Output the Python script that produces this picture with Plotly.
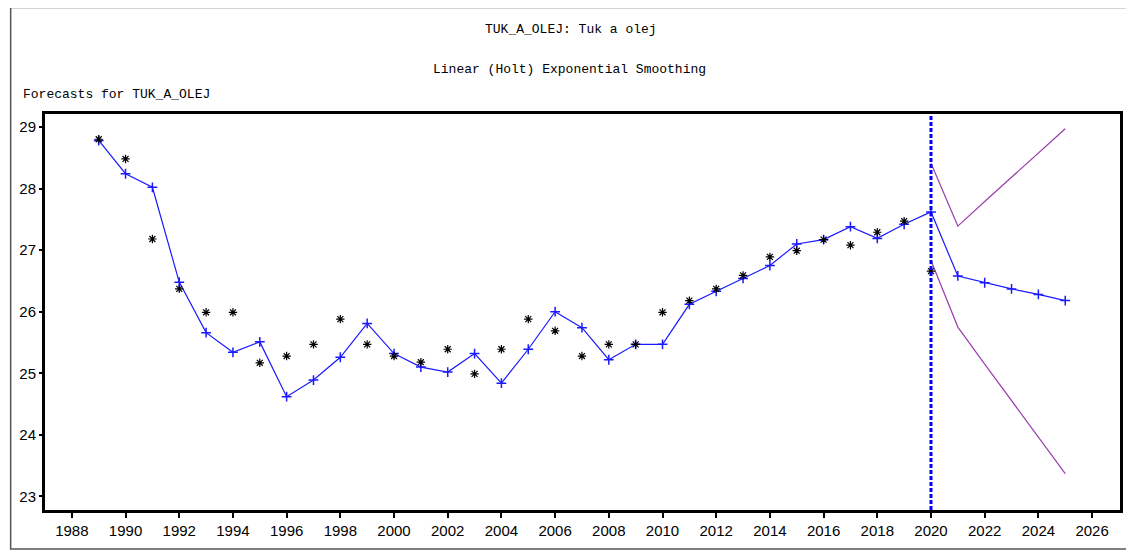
import plotly.graph_objects as go

years_hist = list(range(1989, 2021))
years_all = list(range(1989, 2026))
years_fc = list(range(2020, 2026))

actual = [28.8, 28.48, 27.18, 26.37, 25.99, 25.99, 25.17, 25.28, 25.47, 25.88,
          25.47, 25.28, 25.18, 25.39, 24.99, 25.39, 25.88, 25.69, 25.28, 25.47,
          25.47, 25.99, 26.18, 26.37, 26.59, 26.89, 26.99, 27.17, 27.08, 27.29,
          27.47, 26.66]
fitted = [28.78, 28.24, 28.02, 26.48, 25.66, 25.34, 25.51, 24.62, 24.89, 25.26,
          25.81, 25.32, 25.10, 25.02, 25.32, 24.84, 25.39, 26.00, 25.74, 25.22,
          25.47, 25.47, 26.12, 26.33, 26.54, 26.75, 27.10, 27.17, 27.38, 27.19,
          27.42, 27.62, 26.58, 26.47, 26.37, 26.28, 26.18]
upper = [28.41, 27.39, 27.79, 28.18, 28.58, 28.97]
lower = [26.83, 25.75, 25.15, 24.56, 23.98, 23.37]

x_ticks = list(range(1988, 2027, 2))
y_ticks = [23, 24, 25, 26, 27, 28, 29]
forecast_start = 2020

# page has an 8px body margin; compensate
OFF = 8
W, H = 1134 - OFF, 551 - OFF
ml, mt = 43 - OFF, 114 - OFF
mr = W - (1123 - OFF)
mb = H - (510 - OFF)
pw, ph = W - ml - mr, H - mt - mb

def px(x):
    return (x - OFF - ml) / pw

def py(y):
    return (H - mb - (y - OFF)) / ph

fig = go.Figure()
fig.add_trace(go.Scatter(x=years_fc, y=upper, mode="lines",
                         line=dict(color="#9c3cae", width=1.2), showlegend=False))
fig.add_trace(go.Scatter(x=years_fc, y=lower, mode="lines",
                         line=dict(color="#9c3cae", width=1.2), showlegend=False))
fig.add_trace(go.Scatter(x=years_all, y=fitted, mode="lines+markers",
                         line=dict(color="#1a1aff", width=1.2),
                         marker=dict(symbol="cross-thin", size=7, color="#1a1aff",
                                     line=dict(color="#1a1aff", width=1.5)),
                         showlegend=False))
fig.add_trace(go.Scatter(x=years_hist, y=actual, mode="markers",
                         marker=dict(symbol="asterisk-open", size=7, color="black",
                                     line=dict(color="black", width=1.2)),
                         showlegend=False))

fig.add_shape(type="line", xref="x", yref="paper", x0=forecast_start, x1=forecast_start,
              y0=0, y1=1, line=dict(color="#0000ff", width=3, dash="4px,2px"))
# outer border
fig.add_shape(type="rect", xref="paper", yref="paper",
              x0=px(8.5), x1=px(1130), y0=py(549), y1=py(7.5),
              line=dict(color="#555555", width=1.5))

font_title = dict(family="Liberation Mono, DejaVu Sans Mono, monospace", size=13, color="black")
fig.add_annotation(text="TUK_A_OLEJ: Tuk a olej", xref="paper", yref="paper",
                   x=px(571), y=py(30), showarrow=False, font=font_title,
                   xanchor="center", yanchor="middle")
fig.add_annotation(text="Linear (Holt) Exponential Smoothing", xref="paper", yref="paper",
                   x=px(570), y=py(70), showarrow=False, font=font_title,
                   xanchor="center", yanchor="middle")
fig.add_annotation(text="Forecasts for TUK_A_OLEJ", xref="paper", yref="paper",
                   x=px(19), y=py(95), showarrow=False, font=font_title,
                   xanchor="left", yanchor="middle")

fig.update_layout(
    width=W, height=H,
    margin=dict(l=ml, r=mr, t=mt, b=mb),
    paper_bgcolor="white", plot_bgcolor="white",
    showlegend=False,
    xaxis=dict(range=[1987, 2027.04], tickvals=x_ticks, ticks="outside", ticklen=5,
               tickwidth=2, tickcolor="black", showgrid=False, zeroline=False,
               showline=True, linecolor="black", linewidth=3, mirror=True,
               tickfont=dict(family="Liberation Sans, Arial, sans-serif", size=15, color="black")),
    yaxis=dict(range=[22.78, 29.21], tickvals=y_ticks, ticks="outside", ticklen=3,
               tickwidth=2, tickcolor="black", showgrid=False, zeroline=False,
               showline=True, linecolor="black", linewidth=3, mirror=True,
               tickfont=dict(family="Liberation Sans, Arial, sans-serif", size=15, color="black")),
)

fig.write_html("out.html")
